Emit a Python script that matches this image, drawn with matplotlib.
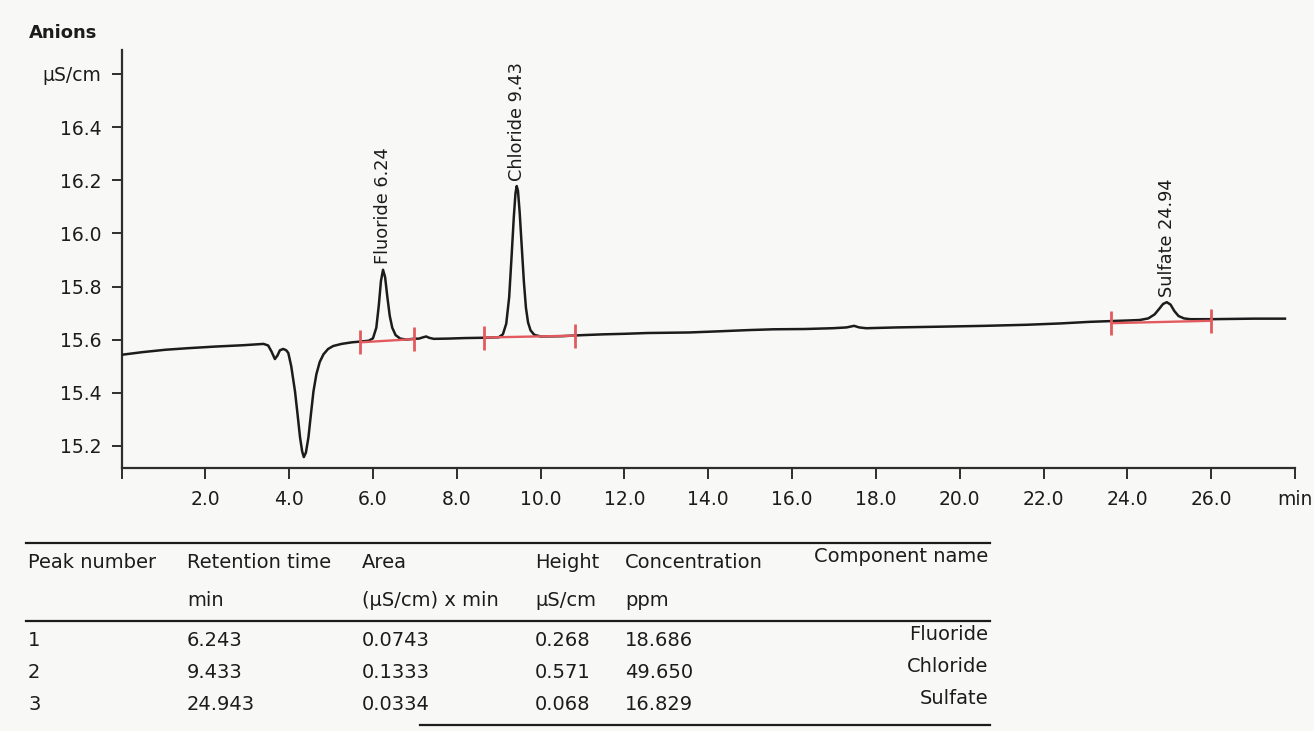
import matplotlib
matplotlib.use("Agg")
import matplotlib.pyplot as plt
from matplotlib.lines import Line2D

plt.rcParams['font.family'] = ['DejaVu Sans']

# Conductivity trace (time in min, signal in µS/cm)
time_min = [0.00, 0.50, 1.05, 1.60, 2.24, 2.90, 3.39, 3.50, 3.58, 3.66, 3.72, 3.78,
            3.86, 3.93, 3.98, 4.05, 4.14, 4.20, 4.26, 4.31, 4.35, 4.40, 4.46, 4.52,
            4.58, 4.65, 4.73, 4.82, 4.93, 5.05, 5.25, 5.50, 5.72, 5.90, 6.00, 6.08,
            6.14, 6.19, 6.24, 6.29, 6.34, 6.40, 6.46, 6.54, 6.65, 6.80, 6.95, 7.10,
            7.20, 7.27, 7.34, 7.45, 7.80, 8.20, 8.60, 9.00, 9.10, 9.18, 9.25, 9.31,
            9.36, 9.40, 9.43, 9.46, 9.50, 9.55, 9.60, 9.65, 9.70, 9.76, 9.85, 10.00,
            10.50, 11.00, 11.50, 12.00, 12.55, 13.54, 14.20, 14.96, 15.56, 16.30,
            16.97, 17.30, 17.48, 17.60, 17.77, 18.50, 19.60, 20.60, 21.60, 22.40,
            23.10, 23.63, 24.00, 24.30, 24.50, 24.65, 24.76, 24.85, 24.94, 25.03,
            25.12, 25.22, 25.35, 25.50, 26.00, 26.50, 27.00, 27.76]
signal = [15.543, 15.553, 15.562, 15.568, 15.574, 15.579, 15.584, 15.578, 15.555,
          15.527, 15.540, 15.560, 15.565, 15.560, 15.550, 15.500, 15.405, 15.320,
          15.232, 15.180, 15.158, 15.175, 15.232, 15.320, 15.405, 15.470, 15.516,
          15.545, 15.565, 15.576, 15.584, 15.590, 15.593, 15.596, 15.605, 15.645,
          15.730, 15.820, 15.863, 15.835, 15.765, 15.690, 15.645, 15.617, 15.604,
          15.600, 15.603, 15.604, 15.609, 15.612, 15.607, 15.603, 15.604, 15.606,
          15.607, 15.609, 15.620, 15.660, 15.760, 15.920, 16.060, 16.150, 16.178,
          16.160, 16.080, 15.950, 15.820, 15.720, 15.665, 15.635, 15.618, 15.612,
          15.613, 15.617, 15.620, 15.622, 15.625, 15.627, 15.631, 15.636, 15.639,
          15.640, 15.643, 15.646, 15.652, 15.646, 15.643, 15.646, 15.649, 15.652,
          15.656, 15.661, 15.667, 15.670, 15.672, 15.674, 15.680, 15.695, 15.716,
          15.734, 15.741, 15.732, 15.708, 15.689, 15.680, 15.677, 15.677, 15.678,
          15.679, 15.679]

# Peak annotations
peak_names = ['Fluoride', 'Chloride', 'Sulfate']
peak_times = [6.24, 9.43, 24.94]
peak_apex = [15.863, 16.178, 15.741]

# Integration baselines (start / end of each peak window)
int_start_t = [5.70, 8.66, 23.62]
int_start_v = [15.590, 15.608, 15.662]
int_end_t = [6.98, 10.81, 26.00]
int_end_v = [15.602, 15.615, 15.671]

# Axis ticks
x_ticks = [0, 2, 4, 6, 8, 10, 12, 14, 16, 18, 20, 22, 24, 26, 28]
x_tick_labels = ['', '2.0', '4.0', '6.0', '8.0', '10.0', '12.0', '14.0', '16.0',
                 '18.0', '20.0', '22.0', '24.0', '26.0', 'min']
y_ticks = [15.2, 15.4, 15.6, 15.8, 16.0, 16.2, 16.4, 16.6]
y_tick_labels = ['15.2', '15.4', '15.6', '15.8', '16.0', '16.2', '16.4', 'µS/cm']

# Results table
tbl_peak_no = ['1', '2', '3']
tbl_ret_time = ['6.243', '9.433', '24.943']
tbl_area = ['0.0743', '0.1333', '0.0334']
tbl_height = ['0.268', '0.571', '0.068']
tbl_conc = ['18.686', '49.650', '16.829']
tbl_component = ['Fluoride', 'Chloride', 'Sulfate']
tbl_head_1 = ['Peak number', 'Retention time', 'Area', 'Height', 'Concentration']
tbl_head_2 = ['', 'min', '(µS/cm) x min', 'µS/cm', 'ppm']
tbl_head_last = 'Component name'

W, H = 1314, 731
ink = '#1c1c1c'
red = '#e25a5e'
paper = '#f8f8f7'


def fx(px):
    return px / W


def fy(py):
    return 1 - py / H


fig = plt.figure(figsize=(W / 100, H / 100), dpi=100, facecolor=paper)
ax = fig.add_axes([fx(121.5), fy(468), fx(1295) - fx(121.5), fy(50) - fy(468)])
ax.set_facecolor(paper)

ax.plot(time_min, signal, color=ink, lw=1.8, solid_joinstyle='round', zorder=3)

# integration baselines with end markers
for t0, v0, t1, v1 in zip(int_start_t, int_start_v, int_end_t, int_end_v):
    ax.plot([t0, t1], [v0, v1], color=red, lw=1.7, zorder=4)
    ax.plot([t0, t1], [v0, v1], ls='none', marker='|', ms=17, mew=2.0,
            color=red, zorder=4)

# peak labels
for name, t, v in zip(peak_names, peak_times, peak_apex):
    ax.annotate(f'{name} {t:.2f}', xy=(t, v), xytext=(0, 4),
                textcoords='offset points', rotation=90, ha='center',
                va='bottom', fontsize=12.8, color=ink)

ax.set_xlim(0, 28)
ax.set_ylim(15.117, 16.69)
ax.set_xticks(x_ticks)
ax.set_xticklabels(x_tick_labels)
ax.set_yticks(y_ticks)
ax.set_yticklabels(y_tick_labels)

for side in ('top', 'right'):
    ax.spines[side].set_visible(False)
for side in ('left', 'bottom'):
    ax.spines[side].set_color('#2e2e2e')
    ax.spines[side].set_linewidth(1.6)

ax.tick_params(axis='y', direction='out', length=7.5, width=1.4, pad=7,
               labelsize=13.5, colors='#2e2e2e', labelcolor=ink)
ax.tick_params(axis='x', direction='out', length=8, width=1.4, pad=8,
               labelsize=13.5, colors='#2e2e2e', labelcolor=ink)

fig.text(fx(29), fy(33), 'Anions', fontsize=13, fontweight='bold',
         color=ink, ha='left', va='center')

# results table
col_x = [28, 187, 362, 535, 625]
right_x = 988
row_y = [640, 672, 705]
fs = 14

for x, h1, h2 in zip(col_x, tbl_head_1, tbl_head_2):
    fig.text(fx(x), fy(562), h1, fontsize=fs, color=ink, ha='left', va='center')
    fig.text(fx(x), fy(600), h2, fontsize=fs, color=ink, ha='left', va='center')
fig.text(fx(right_x), fy(557), tbl_head_last, fontsize=fs, color=ink,
         ha='right', va='center')

columns = [tbl_peak_no, tbl_ret_time, tbl_area, tbl_height, tbl_conc]
for x, col in zip(col_x, columns):
    for y, val in zip(row_y, col):
        fig.text(fx(x), fy(y), val, fontsize=fs, color=ink, ha='left', va='center')
for y, name in zip(row_y, tbl_component):
    fig.text(fx(right_x), fy(y - 6), name, fontsize=fs, color=ink,
             ha='right', va='center')

for x0, x1, y in [(26, 990, 543), (26, 990, 621), (420, 990, 725)]:
    fig.add_artist(Line2D([fx(x0), fx(x1)], [fy(y), fy(y)], color=ink, lw=1.6))

fig.savefig('out.png', dpi=100, facecolor=paper)
